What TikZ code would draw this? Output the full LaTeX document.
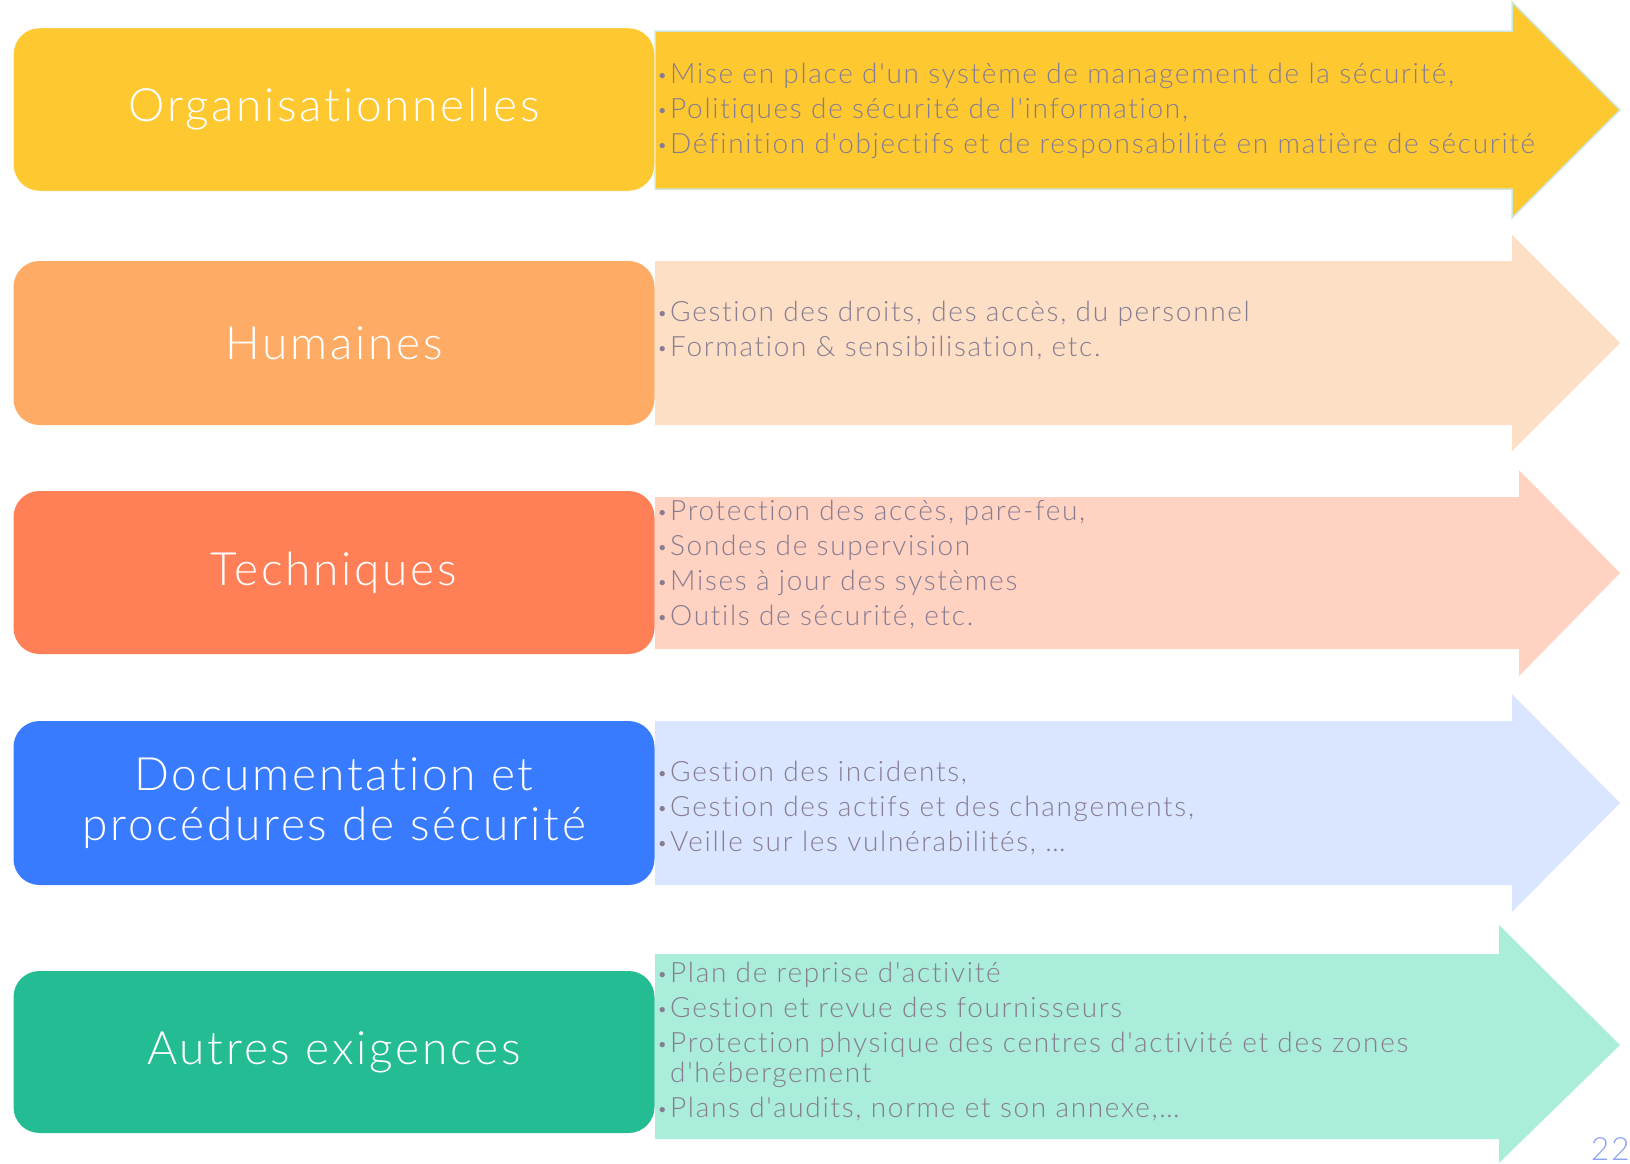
\documentclass[tikz,border=0pt]{standalone}
\usepackage{fontspec}
\setmainfont{Lato}[UprightFont=* Light,Ligatures={TeXOff,CommonOff},LetterSpace=6]
\usetikzlibrary{positioning}

\definecolor{orgbox}{RGB}{254,200,48}
\definecolor{orgline}{RGB}{205,232,220}
\definecolor{humbox}{RGB}{253,171,101}
\definecolor{humarr}{RGB}{253,223,197}
\definecolor{techbox}{RGB}{255,127,86}
\definecolor{techarr}{RGB}{255,210,194}
\definecolor{docbox}{RGB}{56,123,255}
\definecolor{docarr}{RGB}{218,230,255}
\definecolor{autbox}{RGB}{36,188,146}
\definecolor{autarr}{RGB}{169,237,218}
\definecolor{itemgrey}{RGB}{135,125,145}
\definecolor{pagenum}{RGB}{140,165,240}

\tikzset{
  cat/.style={rounded corners=26pt,text=white,align=center,inner sep=0pt,
    minimum width=641pt,font=\fontsize{46}{50}\selectfont},
  lst/.style={anchor=west,align=left,inner sep=0pt,text=itemgrey,
    font=\fontsize{28}{35}\selectfont}
}
\newcommand{\blt}{\makebox[13pt][l]{\raisebox{2pt}{\fontsize{18}{18}\selectfont •}}}

\begin{document}
\begin{tikzpicture}[x=1pt,y=-1pt]
        \useasboundingbox (0,0) rectangle (1630,1163);

        \fill[orgbox,draw=orgline,line width=1.5pt] (655,31) -- (1512,31) -- (1512,2) -- (1620,110) -- (1512,218) -- (1512,189) -- (655,189) -- cycle;
        \fill[humarr] (655,261) -- (1512,261) -- (1512,235) -- (1620,343) -- (1512,451) -- (1512,425) -- (655,425) -- cycle;
        \fill[techarr] (655,497) -- (1519,497) -- (1519,470) -- (1620,573) -- (1519,676) -- (1519,649) -- (655,649) -- cycle;
        \fill[docarr] (655,721) -- (1512,721) -- (1512,694) -- (1620,803) -- (1512,912) -- (1512,885) -- (655,885) -- cycle;
        \fill[autarr] (655,954) -- (1499,954) -- (1499,925) -- (1620,1045) -- (1499,1163) -- (1499,1139) -- (655,1139) -- cycle;

        \node[cat,fill=orgbox,draw=white,minimum height=163pt] (org) at (334,109.5) {Organisationnelles};
        \node[cat,fill=humbox,minimum height=164pt] (hum) at (334,343) {Humaines};
        \node[cat,fill=techbox,minimum height=163pt] (tech) at (334,572.5) {Techniques};
        \node[cat,fill=docbox,minimum height=164pt] (doc) at (334,803) {Documentation et\\proc\'edures de s\'ecurit\'e};
        \node[cat,fill=autbox,minimum height=162pt] (aut) at (334,1052) {Autres exigences};

        \node[lst] (orglist) at (657,111) {\blt Mise en place d'un système de management de la sécurité,\\
          \blt Politiques de sécurité de l'information,\\
          \blt Définition d'objectifs et de responsabilité en matière de sécurité};
        \node[lst] (humlist) at (657,331) {\blt Gestion des droits, des accès, du personnel\\
          \blt Formation \& sensibilisation, etc.};
        \node[lst] (techlist) at (657,565) {\blt Protection des accès, pare-feu,\\
          \blt Sondes de supervision\\
          \blt Mises à jour des systèmes\\
          \blt Outils de sécurité, etc.};
        \node[lst] (doclist) at (657,808) {\blt Gestion des incidents,\\
          \blt Gestion des actifs et des changements,\\
          \blt Veille sur les vulnérabilités, …};
        \node[lst] (autlist) at (657,1042) {\blt Plan de reprise d'activité\\
          \blt Gestion et revue des fournisseurs\\
          \blt Protection physique des centres d'activité et des zones\\[-5pt]
          \hspace*{13pt}d'hébergement\\
          \blt Plans d'audits, norme et son annexe,…};

        \node[text=pagenum,font=\fontsize{32}{32}\selectfont,anchor=base east,inner sep=0pt] (page) at (1630,1160) {22};
      \end{tikzpicture}
\end{document}
